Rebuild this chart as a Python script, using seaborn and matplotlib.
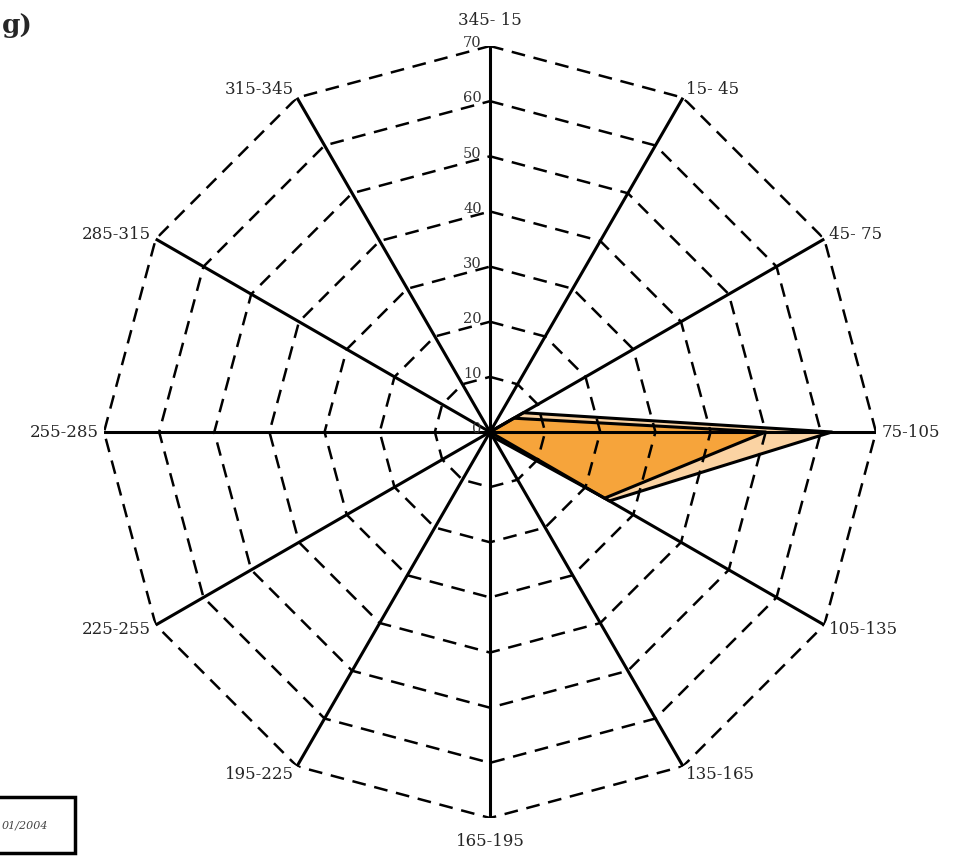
import numpy as np
import pandas as pd
import matplotlib
matplotlib.use('Agg')
import matplotlib.pyplot as plt
import seaborn as sns

# wind direction sectors (clockwise from north) and the two series
sectors = ["345- 15", "15- 45", "45- 75", "75-105", "105-135", "135-165",
           "165-195", "195-225", "225-255", "255-285", "285-315", "315-345"]
outer_vals = [0, 0, 7, 62, 25, 0, 0, 0, 0, 0, 0, 0]
inner_vals = [0, 0, 5, 50, 24, 1, 0, 0, 0, 0, 0, 0]
rings = [10, 20, 30, 40, 50, 60, 70]
ring_labels = ["0", "10", "20", "30", "40", "50", "60", "70"]

sns.set_theme(style='white')
plt.rcParams['font.family'] = ['DejaVu Serif', 'Liberation Serif']

df = pd.DataFrame({'sector': sectors, 'outer': outer_vals, 'inner': inner_vals})
df['theta'] = np.deg2rad(np.arange(len(df)) * 360 / len(df))
closed = pd.concat([df, df.iloc[[0]]], ignore_index=True)

fig = plt.figure(figsize=(9.63, 8.58), dpi=100)
W, H = 963, 858
cx, cy, R = 490, 432, 386
ax = fig.add_axes([(cx - R) / W, (H - cy - R) / H, 2 * R / W, 2 * R / H], projection='polar')
ax.set_theta_zero_location('N')
ax.set_theta_direction(-1)
ax.set_ylim(0, 70)
ax.grid(False)
ax.set_xticks([])
ax.set_yticks([])
ax.spines['polar'].set_visible(False)
ax.patch.set_alpha(0)

# filled series
ax.fill(closed['theta'], closed['outer'], color='#FBD3A3', zorder=2)
ax.plot(closed['theta'], closed['outer'], color='black', lw=2.2, zorder=3)
ax.fill(closed['theta'], closed['inner'], color='#F6A43B', zorder=4)
ax.plot(closed['theta'], closed['inner'], color='black', lw=2.2, zorder=5)

# dashed polygonal rings
for r in rings:
    ax.plot(closed['theta'], [r] * len(closed), color='black', lw=1.8,
            ls=(0, (5.5, 3.5)), zorder=6)

# spokes
for t in df['theta']:
    ax.plot([t, t], [0, 70], color='black', lw=2.2, zorder=7)

# sector labels
for t, lab in zip(df['theta'], df['sector']):
    s, c = np.sin(t), np.cos(t)
    if abs(s) < 0.01:
        ha = 'center'
    elif s > 0:
        ha = 'left'
    else:
        ha = 'right'
    if ha != 'center':
        va = 'center'
    elif c > 0:
        va = 'bottom'
    else:
        va = 'top'
    dy = 7 * c
    if va == 'bottom':
        dy = 12
    elif va == 'top':
        dy = -11
    ax.annotate(lab, xy=(t, 70), xytext=(4 * s, dy),
                textcoords='offset points', ha=ha, va=va, fontsize=12, zorder=8,
                annotation_clip=False)

# radial value labels
for r, lab in zip([0] + rings, ring_labels):
    ax.annotate(lab, xy=(0, r), xytext=(-6, 2), textcoords='offset points',
                ha='right', va='center', fontsize=10.5, color='#333333', zorder=8,
                annotation_clip=False)

fig.text(2 / W, 1 - 26 / H, "g)", fontsize=19, fontweight='bold', ha='left', va='center')

# date box at lower left
fig.text(2 / W, 1 - 826 / H, "01/2004", fontsize=8, fontstyle='italic',
         color='#444444', ha='left', va='center')
box = plt.Rectangle((-20 / W, 1 - 853 / H), 95 / W, 56 / H, transform=fig.transFigure,
                    fill=False, lw=2.5, edgecolor='black')
fig.patches.append(box)

fig.savefig('out.png', dpi=100)
